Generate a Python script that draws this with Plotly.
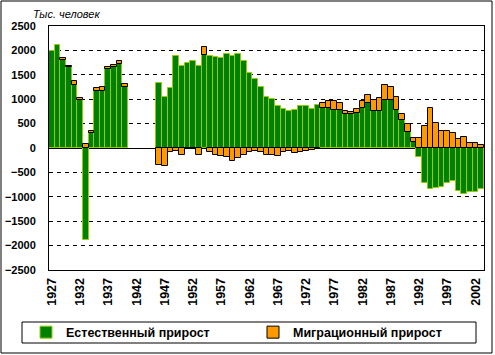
import plotly.graph_objects as go

years = list(range(1927, 2004))

natural = [1980, 2110, 1800, 1660, 1300, 975, -1880, 300, 1170, 1170,
           1625, 1650, 1720, 1255, None, None, None, None, None,
           1330, 1040, 1225, 1890, 1675, 1735, 1790, 1690, 1910, 1890,
           1870, 1850, 1930, 1890, 1930, 1790, 1546, 1405, 1243, 1042,
           1002, 861, 800, 760, 780, 861, 861, 800, 881, 820,
           820, 780, 773, 700, 700, 720, 820, 921, 760, 760,
           982, 982, 780, 579, 337, 115, -187, -712, -833, -813,
           -793, -712, -672, -873, -934, -894, -894, -833]

migration = [None, None, 40, 25, 70, 50, 80, 40, 55, 75,
             45, 45, 55, 55, None, None, None, None, None,
             -356, -377, -87, -67, -134, -30, -10, -134, 170, -87,
             -134, -155, -175, -276, -195, -134, -90, -70, -87, -147,
             -147, -167, -87, -67, -107, -87, -67, -47, -27, 107,
             141, 181, 148, 60, 40, 80, 141, 162, 222, 262,
             302, 261, 262, 121, 161, 81, 196, 457, 820, 518,
             357, 357, 316, 175, 216, 95, 95, 54]

tick_years = list(range(1927, 2003, 5))
tick_labels = [str(y) for y in tick_years]
y_ticks = list(range(-2500, 2501, 500))

series_names = ["Естественный прирост", "Миграционный прирост"]
axis_title = "Тыс. человек"

W, H = 495, 355
L, R, T, B = 49, 11, 26, 85
PW, PH = W - L - R, H - T - B


def px(x):
    return (x - L) / PW


def py(y):
    return (H - B - y) / PH


FONT = "Liberation Sans, Arial, sans-serif"
LEG_FONT = dict(family=FONT, size=12.5, color="black", weight="bold")

fig = go.Figure()
fig.add_trace(go.Bar(
    x=years, y=natural, name=series_names[0], legend="legend",
    marker=dict(color="#008000", line=dict(color="#99CC00", width=1)),
))
fig.add_trace(go.Bar(
    x=years, y=migration, name=series_names[1], legend="legend2",
    marker=dict(color="#FF9900", line=dict(color="#000000", width=1)),
))

fig.update_layout(
    width=W, height=H,
    margin=dict(l=L, r=R, t=T, b=B, autoexpand=False),
    paper_bgcolor="white", plot_bgcolor="white",
    barmode="relative", bargap=0, bargroupgap=0,
    font=dict(family=FONT, size=11, color="black"),
    showlegend=True,
    legend=dict(
        orientation="h", x=px(26), y=py(332.5), xanchor="left", yanchor="middle",
        font=LEG_FONT, bgcolor="rgba(0,0,0,0)", itemclick=False, itemdoubleclick=False,
    ),
    legend2=dict(
        orientation="h", x=px(253), y=py(332.5), xanchor="left", yanchor="middle",
        font=LEG_FONT, bgcolor="rgba(0,0,0,0)", itemclick=False, itemdoubleclick=False,
    ),
    xaxis=dict(
        range=[1926.5, 2003.5], tickmode="array", tickvals=tick_years, ticktext=tick_labels,
        tickangle=-90, showgrid=False, zeroline=False,
        showline=True, mirror=True, linecolor="black", linewidth=1,
        ticks="outside", ticklen=2, tickcolor="rgba(0,0,0,0)",
        tickfont=dict(family=FONT, size=12.5, color="black", weight="bold"),
    ),
    yaxis=dict(
        range=[-2500, 2500], tickmode="array", tickvals=y_ticks,
        showgrid=True, gridcolor="black", gridwidth=1, griddash="4px,4px",
        zeroline=True, zerolinecolor="black", zerolinewidth=1,
        showline=True, mirror=True, linecolor="black", linewidth=1,
        ticks="outside", ticklen=10, tickcolor="rgba(0,0,0,0)",
        tickfont=dict(family=FONT, size=11, color="black", weight="bold"),
    ),
    shapes=[
        dict(type="rect", xref="paper", yref="paper",
             x0=px(1), x1=px(492), y0=py(1), y1=py(353),
             line=dict(color="black", width=1), fillcolor="rgba(0,0,0,0)", layer="below"),
        dict(type="rect", xref="paper", yref="paper",
             x0=px(22), x1=px(476), y0=py(322), y1=py(343),
             line=dict(color="black", width=1), fillcolor="rgba(0,0,0,0)", layer="below"),
    ],
    annotations=[
        dict(text=axis_title, xref="paper", yref="paper", x=px(66), y=py(14),
             xanchor="center", yanchor="middle", showarrow=False,
             font=dict(family=FONT, size=11, color="black", style="italic")),
    ],
)

fig.write_html(
    "out.html",
    config={"displayModeBar": False},
    post_script="document.body.style.margin='0';document.body.style.overflow='hidden';",
)
